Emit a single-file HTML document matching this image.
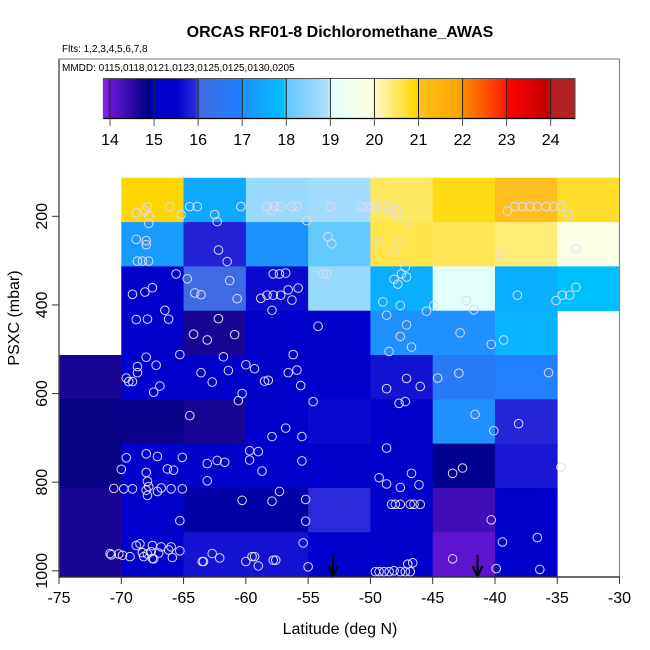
<!DOCTYPE html>
<html><head><meta charset="utf-8"><style>
body{margin:0;background:#fff}
svg{display:block;font-family:"Liberation Sans",sans-serif}
</style></head><body>
<svg id="chart" width="650" height="650" viewBox="0 0 650 650" xmlns="http://www.w3.org/2000/svg">
<rect width="650" height="650" fill="#fff"/>
<text x="340" y="37" font-size="16" font-weight="bold" text-anchor="middle">ORCAS RF01-8 Dichloromethane_AWAS</text>
<text x="62" y="52" font-size="10">Flts: 1,2,3,4,5,6,7,8</text>
<text x="62" y="71" font-size="10">MMDD: 0115,0118,0121,0123,0125,0125,0130,0205</text>
<g id="cells"></g>
<g id="pts"></g>
<g id="cbar"></g>
<rect x="59" y="59" width="560.5" height="518" fill="none" stroke="#888" stroke-width="1.2"/>
<line x1="59" y1="59" x2="59" y2="577" stroke="#444" stroke-width="1.2"/>
<line x1="59" y1="577" x2="619.5" y2="577" stroke="#222" stroke-width="1.2"/>
<g id="axes"></g>
<text x="340" y="634" font-size="16" text-anchor="middle">Latitude (deg N)</text>
<text x="0" y="0" font-size="16" text-anchor="middle" transform="translate(19,318) rotate(-90)">PSXC (mbar)</text>
</svg>
<script>
const lonEdges=[-75,-70,-65,-60,-55,-50,-45,-40,-35,-30];
const presEdges=[113,213,313,413,513,613,713,813,913,1013];
// rows = pressure bins (top to bottom), cols = latitude bins; null = no data
const row0=[null,20.95,17.5,18.7,18.8,20.5,20.85,21.05,20.75];
const row1=[null,17.2,15.85,17.05,18.05,20.6,20.55,20.4,19.9];
const row2=[null,15.3,16.05,15.6,18.7,17.6,19.1,17.65,17.95];
const row3=[null,15.2,14.7,15.4,15.2,17.0,17.0,17.7,null];
const row4=[14.7,15.3,15.05,15.3,15.3,15.7,16.7,16.9,null];
const row5=[14.85,14.8,14.7,15.35,15.6,15.15,17.0,15.9,null];
const row6=[14.85,15.3,15.2,15.5,15.2,15.05,14.92,15.75,null];
const row7=[14.7,15.05,14.95,14.95,15.95,15.0,14.35,15.2,null];
const row8=[14.7,15.2,15.7,15.7,15.3,15.0,14.1,15.0,null];
const grid=[row0,row1,row2,row3,row4,row5,row6,row7,row8];
const xTicks=[-75,-70,-65,-60,-55,-50,-45,-40,-35,-30];
const yTicks=[200,400,600,800,1000];
const cbTicks=[14,15,16,17,18,19,20,21,22,23,24];
const cbMin=13.85, cbMax=24.55;
const arrowLons=[-53.0,-41.4];
const ptLon=[-68.8,-68.1,-67.9,-67.8,-67.8,-66.1,-65.2,-64.5,-63.9,-62.5,-62.3,-60.4,-58.3,-57.9,-57.7,-57.2,-56.3,-55.9,-55.1,-53.2,
-68.8,-68.0,-68.0,-68.7,-68.3,-67.8,-62.2,-61.5,-53.4,-53.1,
-65.6,-64.7,-61.3,-69.1,-68.1,-67.5,-64.1,-63.6,-60.7,-57.8,-57.3,-56.8,-58.3,-57.8,-57.2,-58.8,-56.6,-55.8,-56.3,-57.9,-53.8,-53.5,-66.5,
-68.8,-67.9,-66.2,-62.2,-64.2,-63.1,-60.9,-54.2,
-50.7,-50.3,-49.9,-49.5,-48.6,-48.5,-47.9,-47.8,-47.0,-39.0,-38.4,-37.8,-37.2,-36.6,-35.9,-35.3,-34.7,-34.1,
-49.4,-47.7,-48.1,-39.6,-33.5,
-47.2,-47.5,-47.1,-48.1,-47.8,-49.0,-47.6,-45.5,-44.9,-42.3,-41.7,-38.2,-35.1,-34.6,-34.0,-33.5,
-48.7,-47.1,-47.6,-46.7,-48.5,-42.8,-40.3,-39.3,
-68.0,-65.3,-68.7,-68.7,-67.2,-69.6,-69.4,-69.1,-66.9,-67.4,-61.8,-61.4,-63.6,-62.7,-60.0,-59.3,-58.5,-58.2,-60.3,-60.6,-56.2,-56.6,-55.9,-55.6,-54.6,
-47.1,-48.7,-46.0,-44.6,-42.9,-35.7,-47.7,-47.2,
-64.5,-56.8,-57.9,-55.5,-41.6,-40.1,-38.1,
-69.6,-70.0,-68.0,-67.1,-65.1,-68.0,-66.3,-65.8,-67.9,-70.6,-69.8,-69.1,-68.0,-67.8,-67.1,-66.8,-66.0,-65.1,-67.9,
-63.1,-62.3,-61.7,-63.1,-59.7,-59.0,-59.7,-58.7,-55.5,-48.7,-49.3,-48.7,-47.6,-46.7,-46.1,-43.4,-42.6,-34.7,
-60.3,-57.9,-57.3,-65.3,-55.2,-55.2,-48.3,-48.0,-47.6,-46.8,-46.5,-46.0,-40.3,
-70.9,-70.8,-70.2,-69.9,-69.3,-68.8,-68.5,-67.5,-66.8,-66.0,-65.3,-68.2,-67.4,-67.0,-65.9,-66.2,-67.9,-67.6,-68.3,-67.5,
-62.7,-62.1,-63.5,-63.4,-60.0,-59.5,-59.3,-59.0,-57.8,-57.6,-55.4,-55.0,
-43.4,-39.9,-39.4,-36.6,-36.4,-49.6,-49.3,-48.9,-48.5,-48.1,-47.6,-47.2,-46.8,-47.0,-46.6];
const ptPres=[192,187,178,199,216,178,196,178,178,196,212,178,178,187,178,178,178,178,210,178,
252,255,264,301,301,301,276,302,246,262,
330,341,345,376,371,361,373,377,386,330,330,328,378,378,378,385,366,362,389,412,330,330,412,
433,432,432,431,466,479,467,448,
178,178,178,178,178,189,187,203,217,188,178,178,178,178,178,178,178,196,
258,257,279,285,273,
315,330,337,342,353,393,401,414,401,390,411,378,390,378,378,360,
423,445,471,495,505,463,489,479,
518,512,539,553,536,565,573,573,583,597,517,548,553,574,535,544,572,570,600,616,512,553,547,582,618,
566,589,584,565,554,553,622,618,
650,678,697,697,647,684,668,
745,771,736,742,744,778,770,773,798,814,815,815,818,810,821,813,815,815,830,
758,751,755,797,729,731,750,775,752,723,790,804,812,780,806,780,768,766,
841,843,821,887,839,888,850,850,850,850,850,850,885,
961,964,962,965,968,943,939,943,946,946,955,968,973,960,970,953,962,957,959,972,
961,971,979,979,979,968,968,989,976,976,937,991,
973,995,935,925,997,1002,1002,1002,1002,1000,1002,1002,1002,985,982];

const X=v=>59+(v+75)*12.456;
const Y=p=>127.7+p*0.4431;
const CB=v=>110+(v-14)*44.07;
const stops=[[13.85,[138,43,226]],[14,[106,22,216]],[14.9,[0,0,128]],[15,[0,0,205]],[15.5,[0,0,205]],[15.95,[42,42,218]],[16,[65,105,225]],[16.95,[32,128,255]],[17,[30,144,255]],[17.95,[0,191,255]],[18,[96,200,255]],[18.95,[176,224,255]],[19,[224,255,255]],[19.95,[255,255,224]],[20,[255,250,205]],[20.95,[255,215,0]],[21,[255,192,32]],[21.95,[255,165,0]],[22,[255,140,0]],[22.95,[255,32,0]],[23,[255,0,0]],[23.95,[192,0,0]],[24,[178,34,34]],[24.55,[178,34,34]]];
function col(v){
  if(v<=stops[0][0])return 'rgb('+stops[0][1]+')';
  for(let i=1;i<stops.length;i++){
    if(v<=stops[i][0]){const a=stops[i-1],b=stops[i],t=(v-a[0])/(b[0]-a[0]);
      return 'rgb('+a[1].map((c,k)=>Math.round(c+(b[1][k]-c)*t)).join(',')+')';}
  }
  return 'rgb('+stops[stops.length-1][1]+')';
}
const NS='http://www.w3.org/2000/svg';
function mk(tag,attrs,parent){const e=document.createElementNS(NS,tag);for(const k in attrs)e.setAttribute(k,attrs[k]);parent.appendChild(e);return e;}
const cells=document.getElementById('cells');
grid.forEach((row,r)=>row.forEach((v,c)=>{
  if(v===null)return;
  const x0=X(lonEdges[c]),x1=X(lonEdges[c+1]),y0=Y(presEdges[r]),y1=Math.min(Y(presEdges[r+1]),577);
  const e=mk('rect',{x:x0,y:y0,width:x1-x0+0.4,height:y1-y0+0.4,fill:col(v)},cells);
  
  
}));
const pts=document.getElementById('pts');
ptLon.forEach((lo,i)=>{
  const e=mk('circle',{cx:X(lo),cy:Y(ptPres[i]),r:4.3,fill:'none',stroke:'#dcdcf0','stroke-width':1},pts);
  
  
});
arrowLons.forEach(lo=>{
  const g=mk('g',{},pts);
  
  
  const x=X(lo);
  mk('line',{x1:x,y1:555,x2:x,y2:575,stroke:'#000','stroke-width':2},g);
  mk('path',{d:`M${x-5},566 L${x},576 L${x+5},566`,fill:'none',stroke:'#000','stroke-width':2},g);
});
// colorbar
const cb=document.getElementById('cbar');
const steps=214;
for(let i=0;i<steps;i++){
  const v=cbMin+(cbMax-cbMin)*(i+0.5)/steps;
  const x=CB(cbMin)+(CB(cbMax)-CB(cbMin))*i/steps;
  mk('rect',{x:x,y:78.5,width:(CB(cbMax)-CB(cbMin))/steps+0.6,height:40,fill:col(v)},cb);
}
mk('rect',{x:CB(cbMin),y:78.5,width:CB(cbMax)-CB(cbMin),height:40,fill:'none',stroke:'#555','stroke-width':1},cb);
mk('line',{x1:CB(cbMin),y1:118.5,x2:CB(cbMax),y2:118.5,stroke:'#000','stroke-width':1.3},cb);
cbTicks.forEach(t=>{
  mk('line',{x1:CB(t),y1:78.5,x2:CB(t),y2:118.5,stroke:'#222','stroke-width':1},cb);
  mk('line',{x1:CB(t),y1:118.5,x2:CB(t),y2:126,stroke:'#555','stroke-width':1},cb);
  const e=mk('text',{x:CB(t),y:145,'font-size':16,'text-anchor':'middle'},cb);
  e.textContent=t;
  
  
});
const ax=document.getElementById('axes');
xTicks.forEach(t=>{
  mk('line',{x1:X(t),y1:577,x2:X(t),y2:584,stroke:'#333','stroke-width':1},ax);
  const e=mk('text',{x:X(t),y:603,'font-size':16,'text-anchor':'middle'},ax);
  e.textContent=t;
  
  
});
yTicks.forEach(t=>{
  mk('line',{x1:52,y1:Y(t),x2:59,y2:Y(t),stroke:'#333','stroke-width':1},ax);
  const e=mk('text',{x:0,y:0,'font-size':16,'text-anchor':'middle',transform:`translate(47,${Y(t)}) rotate(-90)`},ax);
  e.textContent=t;
  
  
});
</script>
</body></html>
